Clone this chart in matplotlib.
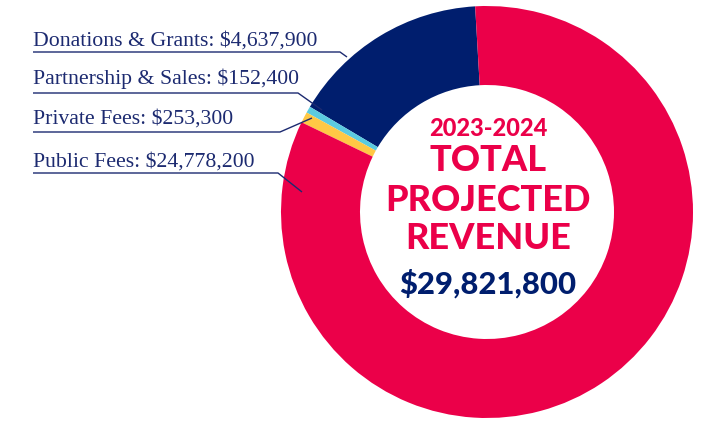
import matplotlib.pyplot as plt

# revenue sources, counter-clockwise from the top
sources = ['Donations & Grants', 'Partnership & Sales', 'Private Fees', 'Public Fees']
amounts = [4637900, 152400, 253300, 24778200]
colors = ['#001E6E', '#5BCBE0', '#FFC845', '#EB0049']
total = 29821800
year = '2023-2024'

W, H = 702, 423
navy = '#1C2A70'
red = '#EB0049'

fig = plt.figure(figsize=(W / 100, H / 100), dpi=100)
ax = fig.add_axes([0, 0, 1, 1])

cx, cy, r = 487, H - 212, 206
ax.pie(amounts, colors=colors, startangle=93.3, counterclock=True,
       center=(cx, cy), radius=r, frame=True,
       wedgeprops=dict(width=79, linewidth=0))
ax.set_xlim(0, W)
ax.set_ylim(0, H)
ax.set_aspect('equal')
ax.axis('off')

# labels with leader lines (pixel positions, y from top)
label_y = [46, 84, 124, 167]
line_y = [52, 93, 132, 173]
knee_x = [340, 298, 280, 278]
ends = [(347, 57), (322, 110), (312, 118), (302, 192)]
for name, amt, ty, ly, kx, (ex, ey) in zip(sources, amounts, label_y, line_y, knee_x, ends):
    ax.text(33, H - ty, f'{name}: ${amt:,}', family='Liberation Serif', fontsize=15.7,
            color=navy, ha='left', va='baseline')
    ax.plot([33, kx, ex], [H - ly, H - ly, H - ey], color=navy, lw=1.0,
            solid_capstyle='butt')

# centre text
ax.text(cx + 1, H - 128, year, family='Lato', weight='black', fontsize=17,
        color=red, ha='center', va='center')
for t, y in zip(['TOTAL', 'PROJECTED', 'REVENUE'], [160, 200, 238]):
    ax.text(cx + 1, H - y, t, family='Lato', weight='black', fontsize=26,
            color=red, ha='center', va='center')
ax.text(cx + 1, H - 284, f'${total:,}', family='Lato', weight='black', fontsize=22.3,
        color='#001E6E', ha='center', va='center')

fig.savefig('out.png', dpi=100)
